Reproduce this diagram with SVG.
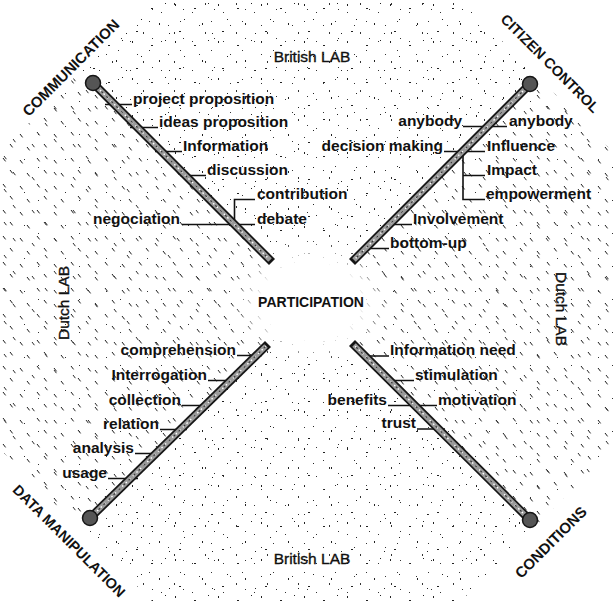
<svg xmlns="http://www.w3.org/2000/svg" width="613" height="601" viewBox="0 0 613 601">
<style>
.lbl{font-family:"Liberation Sans",Arial,sans-serif;font-weight:bold;font-size:15.5px;fill:#111}
.end{text-anchor:end}
.corner{font-family:"Liberation Sans",Arial,sans-serif;font-weight:bold;font-size:14.5px;fill:#111;text-anchor:middle}
.lab{font-family:"Liberation Sans",Arial,sans-serif;font-size:15.5px;fill:#111;stroke:#111;stroke-width:0.35;text-anchor:middle}
.center{font-family:"Liberation Sans",Arial,sans-serif;font-weight:bold;font-size:14px;fill:#111;text-anchor:middle}
.leader{fill:none;stroke:#111;stroke-width:1.6}
.ax-out{stroke:#151515;stroke-width:8.5;stroke-linecap:butt}
.ax-in{stroke:#9a9a9a;stroke-width:5}
.ax-sp1{stroke:#ffffff;stroke-width:1.4;stroke-dasharray:1.5 3.5}
.ax-sp2{stroke:#3a3a3a;stroke-width:1.2;stroke-dasharray:2 5;stroke-dashoffset:2}
.knob{fill:#555;stroke:#151515;stroke-width:1.5}
</style>
<defs>
<clipPath id="oct"><polygon points="152,0 461,0 613,152 613,449 461,601 152,601 0,449 0,152"/></clipPath>
<pattern id="dotsA" width="43" height="37" patternUnits="userSpaceOnUse">
<g fill="#222">
<rect x="3" y="4" width="1" height="2"/><rect x="22" y="8" width="2" height="1"/><rect x="36" y="3" width="1" height="1"/>
<rect x="12" y="19" width="1" height="1"/><rect x="30" y="23" width="1" height="2"/><rect x="7" y="31" width="2" height="1"/>
<rect x="40" y="33" width="1" height="1"/>
</g>
</pattern>
<pattern id="dotsB" width="31" height="29" patternUnits="userSpaceOnUse">
<g fill="#333">
<rect x="6" y="12" width="1" height="1"/><rect x="19" y="3" width="1" height="2"/><rect x="25" y="21" width="1" height="1"/>
<rect x="13" y="25" width="1" height="1"/><rect x="28" y="9" width="1" height="1"/>
</g>
</pattern>
<pattern id="dashA" width="34" height="26" patternUnits="userSpaceOnUse">
<path d="M3 2l2.6 3.4M20 4l2.6 3.4M10 14l2.6 3.4M27 17l2.6 3.4" stroke="#1a1a1a" stroke-width="1" fill="none"/>
</pattern>
<pattern id="dashB" width="41" height="33" patternUnits="userSpaceOnUse">
<path d="M13 7l2.4 3.2M32 12l2.4 3.2M4 24l2.4 3.2" stroke="#2a2a2a" stroke-width="1" fill="none"/>
<rect x="24" y="27" width="1" height="1" fill="#333"/><rect x="38" y="2" width="1" height="1" fill="#333"/>
</pattern>
<radialGradient id="hole" cx="0.5" cy="0.5" r="0.5">
<stop offset="0.6" stop-color="#fff" stop-opacity="1"/>
<stop offset="1" stop-color="#fff" stop-opacity="0"/>
</radialGradient>
</defs>
<rect width="613" height="601" fill="#fff"/>
<g id="texture" clip-path="url(#oct)">
<polygon points="311,302 -400,-409 1024,-411" fill="url(#dotsA)"/>
<polygon points="311,302 -400,-409 1024,-411" fill="url(#dotsB)"/>
<polygon points="311,302 1024,1015 -400,1013" fill="url(#dotsA)"/>
<polygon points="311,302 1024,1015 -400,1013" fill="url(#dotsB)"/>
<polygon points="311,302 1024,-411 1024,1015" fill="url(#dashA)"/>
<polygon points="311,302 1024,-411 1024,1015" fill="url(#dashB)"/>
<polygon points="311,302 -400,1013 -400,-409" fill="url(#dashA)"/>
<polygon points="311,302 -400,1013 -400,-409" fill="url(#dashB)"/>
<ellipse cx="311" cy="301" rx="80" ry="64" fill="url(#hole)"/>
</g>
<g id="connectors">
<path class="leader" d="M105 104.5H132M130 127.5H158M155 151.5H182M180 175.5H206M182 224.5H255M234.5 224.5V199.5H255"/>
<path class="leader" d="M463 126.5H507M444 151.5H485M463 151.5V199.5H485M463 175.5H485M387 224.5H412M364 248.5H389"/>
<path class="leader" d="M237 355.5H262M208 380.5H235M182 405.5H208M160 429.5H187M135 453.5H161M108 478.5H138"/>
<path class="leader" d="M361 356H389M386 380.5H414M388 405.5H437M417 429H445"/>
</g>
<g id="axes">
<g id="axis-communication">
<path class="ax-out" d="M93 83L272 262"/><path class="ax-in" d="M93 83L270 260"/><path class="ax-sp1" d="M93 83L270 260"/><path class="ax-sp2" d="M93 83L270 260"/>
<circle class="knob" cx="93" cy="83" r="7.5"/>
</g>
<g id="axis-citizen">
<path class="ax-out" d="M530 84L352 262"/><path class="ax-in" d="M530 84L354 260"/><path class="ax-sp1" d="M530 84L354 260"/><path class="ax-sp2" d="M530 84L354 260"/>
<circle class="knob" cx="530" cy="84" r="7.5"/>
</g>
<g id="axis-data">
<path class="ax-out" d="M90 518L268 344"/><path class="ax-in" d="M90 518L266 346"/><path class="ax-sp1" d="M90 518L266 346"/><path class="ax-sp2" d="M90 518L266 346"/>
<circle class="knob" cx="90" cy="518" r="7.5"/>
</g>
<g id="axis-conditions">
<path class="ax-out" d="M530 520L352 343"/><path class="ax-in" d="M530 520L354 345"/><path class="ax-sp1" d="M530 520L354 345"/><path class="ax-sp2" d="M530 520L354 345"/>
<circle class="knob" cx="530" cy="520" r="7.5"/>
</g>
</g>
<g id="participation"><text class="center" x="311" y="307">PARTICIPATION</text></g>
<g id="british-lab-top"><text class="lab" x="312" y="62">British LAB</text></g>
<g id="british-lab-bottom"><text class="lab" x="312" y="564">British LAB</text></g>
<g id="dutch-lab-left"><text class="lab" transform="translate(69,303) rotate(-90)">Dutch LAB</text></g>
<g id="dutch-lab-right"><text class="lab" transform="translate(556,309) rotate(90)">Dutch LAB</text></g>
<g id="communication"><text class="corner" style="font-size:15px" transform="translate(74.5,71.5) rotate(-45)">COMMUNICATION</text></g>
<g id="citizen-control"><text class="corner" transform="translate(546.5,67) rotate(45)">CITIZEN CONTROL</text></g>
<g id="data-manipulation"><text class="corner" transform="translate(65.5,544.5) rotate(45)">DATA MANIPULATION</text></g>
<g id="conditions"><text class="corner" style="font-size:15px" transform="translate(554.5,546) rotate(-45)">CONDITIONS</text></g>
<g id="project-proposition"><text class="lbl" x="133" y="104">project proposition</text></g>
<g id="ideas-proposition"><text class="lbl" x="159" y="127">ideas proposition</text></g>
<g id="information"><text class="lbl" x="183" y="151">Information</text></g>
<g id="discussion"><text class="lbl" x="207" y="175">discussion</text></g>
<g id="contribution"><text class="lbl" x="257" y="199">contribution</text></g>
<g id="debate"><text class="lbl" x="257" y="224">debate</text></g>
<g id="negociation"><text class="lbl end" x="180" y="224">negociation</text></g>
<g id="anybody-left"><text class="lbl end" x="462" y="126">anybody</text></g>
<g id="anybody-right"><text class="lbl" x="509" y="126">anybody</text></g>
<g id="decision-making"><text class="lbl end" x="443" y="151">decision making</text></g>
<g id="influence"><text class="lbl" x="487" y="151">Influence</text></g>
<g id="impact"><text class="lbl" x="487" y="175">Impact</text></g>
<g id="empowerment"><text class="lbl" x="486" y="199">empowerment</text></g>
<g id="involvement"><text class="lbl" x="413" y="224">Involvement</text></g>
<g id="bottom-up"><text class="lbl" x="390" y="248">bottom-up</text></g>
<g id="comprehension"><text class="lbl end" x="236" y="355">comprehension</text></g>
<g id="interrogation"><text class="lbl end" x="207" y="380">Interrogation</text></g>
<g id="collection"><text class="lbl end" x="181" y="405">collection</text></g>
<g id="relation"><text class="lbl end" x="159" y="429">relation</text></g>
<g id="analysis"><text class="lbl end" x="134" y="453">analysis</text></g>
<g id="usage"><text class="lbl end" x="107" y="478">usage</text></g>
<g id="information-need"><text class="lbl" x="390" y="355">Information need</text></g>
<g id="stimulation"><text class="lbl" x="415" y="380">stimulation</text></g>
<g id="benefits"><text class="lbl end" x="387" y="405">benefits</text></g>
<g id="motivation"><text class="lbl" x="438" y="405">motivation</text></g>
<g id="trust"><text class="lbl end" x="416" y="428">trust</text></g>
</svg>
